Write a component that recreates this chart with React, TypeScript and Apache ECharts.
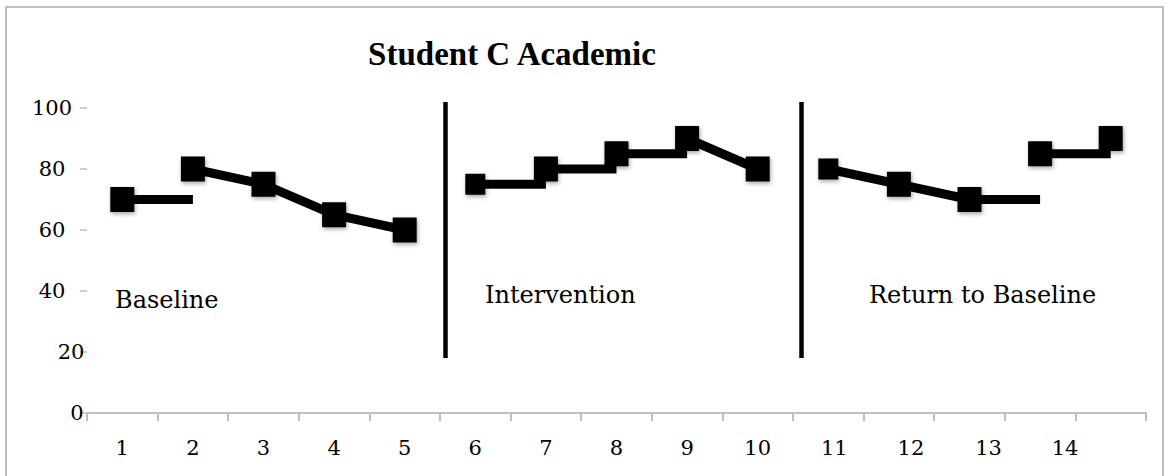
import React, { useEffect, useRef } from "react";
import * as echarts from "echarts";

// Session numbers along the x axis (the last slot is left unlabeled)
const sessions = ["1", "2", "3", "4", "5", "6", "7", "8", "9", "10", "11", "12", "13", "14", ""];
// Academic score for each session
const scores = [70, 80, 75, 65, 60, 75, 80, 85, 90, 80, 80, 75, 70, 85, 90];
// How each session joins the next: "level" holds the current score, "slope" runs to the next score, "none" breaks the line
const links = ["level", "slope", "slope", "slope", "none", "level", "level", "level", "slope", "none", "slope", "slope", "level", "level"];
// Phase names and where the phase-change lines sit (in session-index units)
const phaseNames = ["Baseline", "Intervention", "Return to Baseline"];
const phaseChanges = [4.58, 9.61];
const phaseLineRange = [18, 102];

// Styling
const GRID = { left: 87, right: 24, top: 108, bottom: 63 };
const SERIF = "DejaVu Serif";
const phaseLabelPos = [
  { x: 115, y: 300 },
  { x: 485, y: 295 },
  { x: 869, y: 295 },
];
const yLabelNudge: Record<string, number> = { "20": 19, "0": 25 };
const xLabelNudge: Record<string, number> = { "11": 6, "12": 12, "13": 19, "14": 25 };
const smallMarkers = new Set([5, 10]);

function buildRuns(): number[][][] {
  const runs: number[][][] = [];
  let open: number[][] | null = null;
  links.forEach((kind, i) => {
    if (kind === "slope") {
      if (open) {
        open.push([i + 1, scores[i + 1]]);
      } else {
        open = [
          [i, scores[i]],
          [i + 1, scores[i + 1]],
        ];
        runs.push(open);
      }
    } else {
      open = null;
      if (kind === "level") {
        runs.push([
          [i, scores[i]],
          [i + 1, scores[i]],
        ]);
      }
    }
  });
  return runs;
}

function nudgeRich(nudges: Record<string, number>, size: number) {
  const rich: Record<string, any> = {};
  Object.values(nudges).forEach((n) => {
    rich["n" + n] = {
      padding: [0, 0, 0, n * 2],
      fontFamily: SERIF,
      fontSize: size,
      color: "#000",
    };
  });
  return rich;
}

export default function App() {
  const ref = useRef<HTMLDivElement>(null);

  useEffect(() => {
    if (!ref.current) return;
    const chart = echarts.init(ref.current, null, { renderer: "svg" });

    const runs = buildRuns();

    const option: any = {
      animation: false,
      backgroundColor: "#ffffff",
      grid: { ...GRID, containLabel: false },
      xAxis: [
        {
          type: "category",
          data: sessions,
          boundaryGap: true,
          axisLine: { show: true, onZero: false, lineStyle: { color: "#bfbfbf", width: 2 } },
          axisTick: { show: true, length: 8, lineStyle: { color: "#bfbfbf", width: 2 } },
          axisLabel: {
            interval: 0,
            margin: 24,
            fontFamily: SERIF,
            fontSize: 21,
            color: "#000",
            formatter: (v: string) => (xLabelNudge[v] ? `{n${xLabelNudge[v]}|${v}}` : v),
            rich: nudgeRich(xLabelNudge, 21),
          },
          splitLine: { show: false },
        },
        {
          type: "value",
          min: -0.5,
          max: sessions.length - 0.5,
          show: false,
          axisLine: { onZero: false },
        },
      ],
      yAxis: {
        type: "value",
        min: 0,
        max: 100,
        interval: 20,
        axisLine: { show: false, onZero: false },
        axisTick: { show: true, length: 7, lineStyle: { color: "#bfbfbf", width: 1.5 } },
        splitLine: { show: false },
        axisLabel: {
          align: "center",
          margin: 35,
          fontFamily: SERIF,
          fontSize: 21,
          color: "#000",
          formatter: (v: number) => {
            const k = String(v);
            return yLabelNudge[k] ? `{n${yLabelNudge[k]}|${k}}` : k;
          },
          rich: nudgeRich(yLabelNudge, 21),
        },
      },
      series: [
        {
          name: "phase changes",
          type: "lines",
          coordinateSystem: "cartesian2d",
          xAxisIndex: 1,
          yAxisIndex: 0,
          clip: false,
          silent: true,
          z: 2,
          lineStyle: { color: "#000", width: 4.5, opacity: 1, curveness: 0, cap: "butt" },
          data: phaseChanges.map((x) => ({
            coords: [
              [x, phaseLineRange[0]],
              [x, phaseLineRange[1]],
            ],
          })),
        },
        {
          name: "score path",
          type: "lines",
          coordinateSystem: "cartesian2d",
          xAxisIndex: 1,
          yAxisIndex: 0,
          polyline: true,
          clip: false,
          silent: true,
          z: 3,
          lineStyle: {
            color: "#000",
            width: 9,
            opacity: 1,
            curveness: 0,
            cap: "butt",
            join: "miter",
          },
          data: runs.map((coords) => ({ coords })),
        },
        {
          name: "Score",
          type: "scatter",
          xAxisIndex: 0,
          yAxisIndex: 0,
          z: 4,
          symbol: "rect",
          symbolSize: (_v: any, p: any) => (smallMarkers.has(p.dataIndex) ? [20, 21] : [24, 25]),
          itemStyle: {
            color: "#000",
            opacity: 1,
            shadowBlur: 4,
            shadowColor: "rgba(0,0,0,0.35)",
            shadowOffsetX: 1,
            shadowOffsetY: 2,
          },
          data: scores,
        },
      ],
      graphic: [
        {
          type: "rect",
          silent: true,
          shape: { x: 6, y: 7, width: 1157, height: 500 },
          style: { fill: "none", stroke: "#bfbfbf", lineWidth: 2 },
        },
        {
          type: "text",
          x: 512,
          y: 54,
          style: {
            text: "Student C Academic",
            fontFamily: "Liberation Serif",
            fontWeight: "bold",
            fontSize: 33,
            fill: "#000",
            textAlign: "center",
            textVerticalAlign: "middle",
          },
        },
        ...phaseNames.map((name, i) => ({
          type: "text",
          x: phaseLabelPos[i].x,
          y: phaseLabelPos[i].y,
          style: {
            text: name,
            fontFamily: SERIF,
            fontSize: 24,
            fill: "#000",
            textAlign: "left",
            textVerticalAlign: "middle",
          },
        })),
      ],
    };

    chart.setOption(option);
    return () => chart.dispose();
  }, []);

  return (
    <div
      ref={ref}
      style={{ position: "absolute", left: 0, top: 0, width: 1170, height: 476, background: "#fff" }}
    />
  );
}
